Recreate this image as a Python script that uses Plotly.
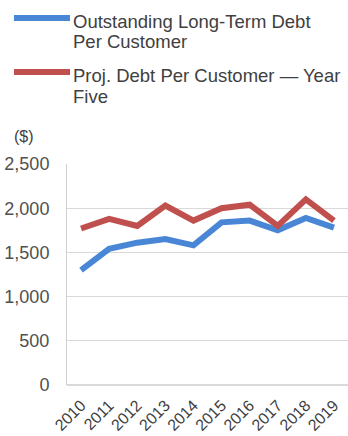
import plotly.graph_objects as go

years = ["2010", "2011", "2012", "2013", "2014", "2015", "2016", "2017", "2018", "2019"]
outstanding = [1300, 1540, 1610, 1650, 1580, 1840, 1860, 1750, 1890, 1780]
projected = [1770, 1880, 1800, 2030, 1860, 2000, 2040, 1800, 2100, 1860]
series_names = ["Outstanding Long-Term Debt<br>Per Customer",
                "Proj. Debt Per Customer — Year<br>Five"]
colors = ["#4a86d6", "#c0504d"]
y_ticks = [0, 500, 1000, 1500, 2000, 2500]

W, H = 348, 436
L, R, T, B = 67, 0, 164, 51
pw, ph = W - L - R, H - T - B

def px_x(x):
    return (x - L) / pw

def px_y(y):
    return (H - B - y) / ph

fig = go.Figure()
for vals, name, c in zip([outstanding, projected], series_names, colors):
    fig.add_trace(go.Scatter(x=years, y=vals, mode="lines", name=name,
                             line=dict(color=c, width=6), showlegend=False))

font = "Liberation Sans, Arial, sans-serif"
text_color = "#404040"

legend_rows = [18, 72]
for row_y, name, c in zip(legend_rows, series_names, colors):
    fig.add_shape(type="line", xref="paper", yref="paper",
                  x0=px_x(14), x1=px_x(70), y0=px_y(row_y), y1=px_y(row_y),
                  line=dict(color=c, width=6))
    for i, part in enumerate(name.split("<br>")):
        fig.add_annotation(xref="paper", yref="paper", x=px_x(71), y=px_y(row_y + 3 + 21 * i),
                           xanchor="left", yanchor="middle", text=part, showarrow=False,
                           align="left", font=dict(family=font, size=18.5, color=text_color))

fig.add_annotation(xref="paper", yref="paper", x=px_x(24), y=px_y(136),
                   xanchor="center", yanchor="middle", text="($)", showarrow=False,
                   font=dict(family=font, size=16, color=text_color))

fig.update_layout(
    width=W, height=H,
    margin=dict(l=L, r=R, t=T, b=B, pad=0),
    paper_bgcolor="white", plot_bgcolor="white",
    font=dict(family=font, size=15, color=text_color),
    xaxis=dict(type="category", range=[-0.5, 9.5], tickangle=-45, showgrid=False,
               showline=False, ticks="", ticklabelstandoff=7, automargin=False,
               tickfont=dict(size=16, color=text_color)),
    yaxis=dict(range=[0, 2500], tickvals=y_ticks, tickformat=",d",
               showgrid=True, gridcolor="#d9d9d9", gridwidth=1,
               showline=True, linecolor="#d0d0d0", linewidth=1,
               zeroline=True, zerolinecolor="#d9d9d9", ticks="", ticklen=0,
               ticklabelstandoff=13, automargin=False,
               tickfont=dict(size=18, color="#505050")),
)
fig.write_html("out.html")
